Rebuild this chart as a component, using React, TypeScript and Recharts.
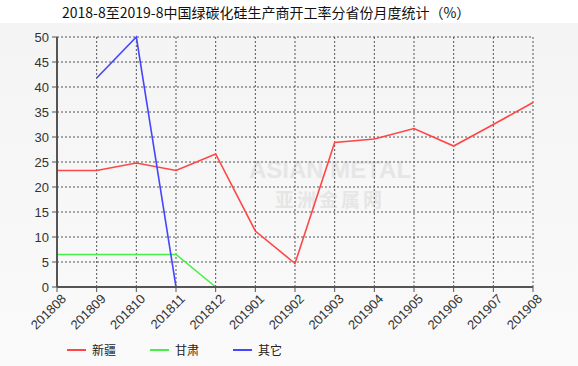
import React from 'react'
import { CartesianGrid, Line, LineChart, XAxis, YAxis } from 'recharts'

const months = [
  '201808', '201809', '201810', '201811', '201812', '201901', '201902',
  '201903', '201904', '201905', '201906', '201907', '201908',
]
const xinjiang = [23.3, 23.3, 24.8, 23.3, 26.6, 11.2, 4.7, 28.9, 29.6, 31.7, 28.2, 32.5, 36.9]
const gansu = [6.5, 6.5, 6.5, 6.5, 0, null, null, null, null, null, null, null, null]
const others = [null, 41.8, 50, 0, null, null, null, null, null, null, null, null, null]
const yTicks = [0, 5, 10, 15, 20, 25, 30, 35, 40, 45, 50]

const seriesList = [
  { key: 'xinjiang', name: '新疆', color: '#ff4646' },
  { key: 'gansu', name: '甘肃', color: '#46f046' },
  { key: 'others', name: '其它', color: '#4646ff' },
]

const data = months.map((m, i) => ({
  month: m,
  xinjiang: xinjiang[i],
  gansu: gansu[i],
  others: others[i],
}))

const font = 'Arial, "Liberation Sans", sans-serif'

function MonthTick(props: any) {
  const { x, y, payload } = props
  return (
    <text
      x={x}
      y={y}
      dx={3}
      dy={11}
      transform={`rotate(-45, ${x}, ${y})`}
      textAnchor="end"
      fontSize={13}
      fontFamily={font}
      fill="#333"
    >
      {payload.value}
    </text>
  )
}

export default function App() {
  return (
    <div
      style={{
        position: 'absolute',
        left: 0,
        top: 0,
        width: 578,
        height: 366,
        background: '#fff',
        overflow: 'hidden',
      }}
    >
      <div
        style={{
          position: 'absolute',
          left: 0,
          top: 23,
          width: 578,
          height: 343,
          background: 'linear-gradient(#f4f4f4, #fafafa)',
        }}
      />
      <div
        style={{
          position: 'absolute',
          left: 62,
          top: 2,
          fontSize: 14,
          fontFamily: '"Noto Sans CJK SC", sans-serif',
          color: '#111',
          whiteSpace: 'nowrap',
        }}
      >
        2018-8至2019-8中国绿碳化硅生产商开工率分省份月度统计（%）
      </div>
      <div
        style={{
          position: 'absolute',
          left: 240,
          top: 156,
          width: 180,
          color: '#e6e6e6',
          fontFamily: font,
          fontWeight: 'bold',
          textAlign: 'center',
          whiteSpace: 'nowrap',
        }}
      >
        <div style={{ fontSize: 24, lineHeight: '28px' }}>ASIAN METAL</div>
        <div
          style={{
            fontSize: 19,
            lineHeight: '22px',
            marginTop: 4,
            fontFamily: '"Noto Sans CJK SC", sans-serif',
            letterSpacing: 3,
          }}
        >
          亚洲金属网
        </div>
      </div>
      <div style={{ position: 'absolute', left: 0, top: 0 }}>
        <LineChart
          width={578}
          height={366}
          data={data}
          margin={{ top: 37, right: 45, left: 22, bottom: 29 }}
        >
          <CartesianGrid stroke="#555" strokeDasharray="2 2" strokeWidth={1} />
          <XAxis
            dataKey="month"
            interval={0}
            height={50}
            tick={<MonthTick />}
            tickSize={5}
            axisLine={{ stroke: '#555', strokeWidth: 2 }}
            tickLine={{ stroke: '#555' }}
          />
          <YAxis
            domain={[0, 50]}
            ticks={yTicks}
            interval={0}
            width={35}
            tickSize={5}
            tickMargin={3}
            axisLine={{ stroke: '#555', strokeWidth: 2 }}
            tickLine={{ stroke: '#555' }}
            tick={{ fontSize: 13, fontFamily: font, fill: '#333' }}
          />
          {seriesList.map((s) => (
            <Line
              key={s.key}
              type="linear"
              dataKey={s.key}
              name={s.name}
              stroke={s.color}
              strokeWidth={1.6}
              dot={false}
              activeDot={false}
              connectNulls={false}
              isAnimationActive={false}
            />
          ))}
        </LineChart>
      </div>
      <div
        style={{
          position: 'absolute',
          left: 67,
          top: 341,
          display: 'flex',
          fontSize: 12,
          fontFamily: '"Noto Sans CJK SC", sans-serif',
          color: '#222',
        }}
      >
        {seriesList.map((s) => (
          <div key={s.key} style={{ display: 'flex', alignItems: 'center', width: 83 }}>
            <span
              style={{ display: 'inline-block', width: 19, height: 2, background: s.color, marginRight: 6 }}
            />
            <span>{s.name}</span>
          </div>
        ))}
      </div>
    </div>
  )
}
